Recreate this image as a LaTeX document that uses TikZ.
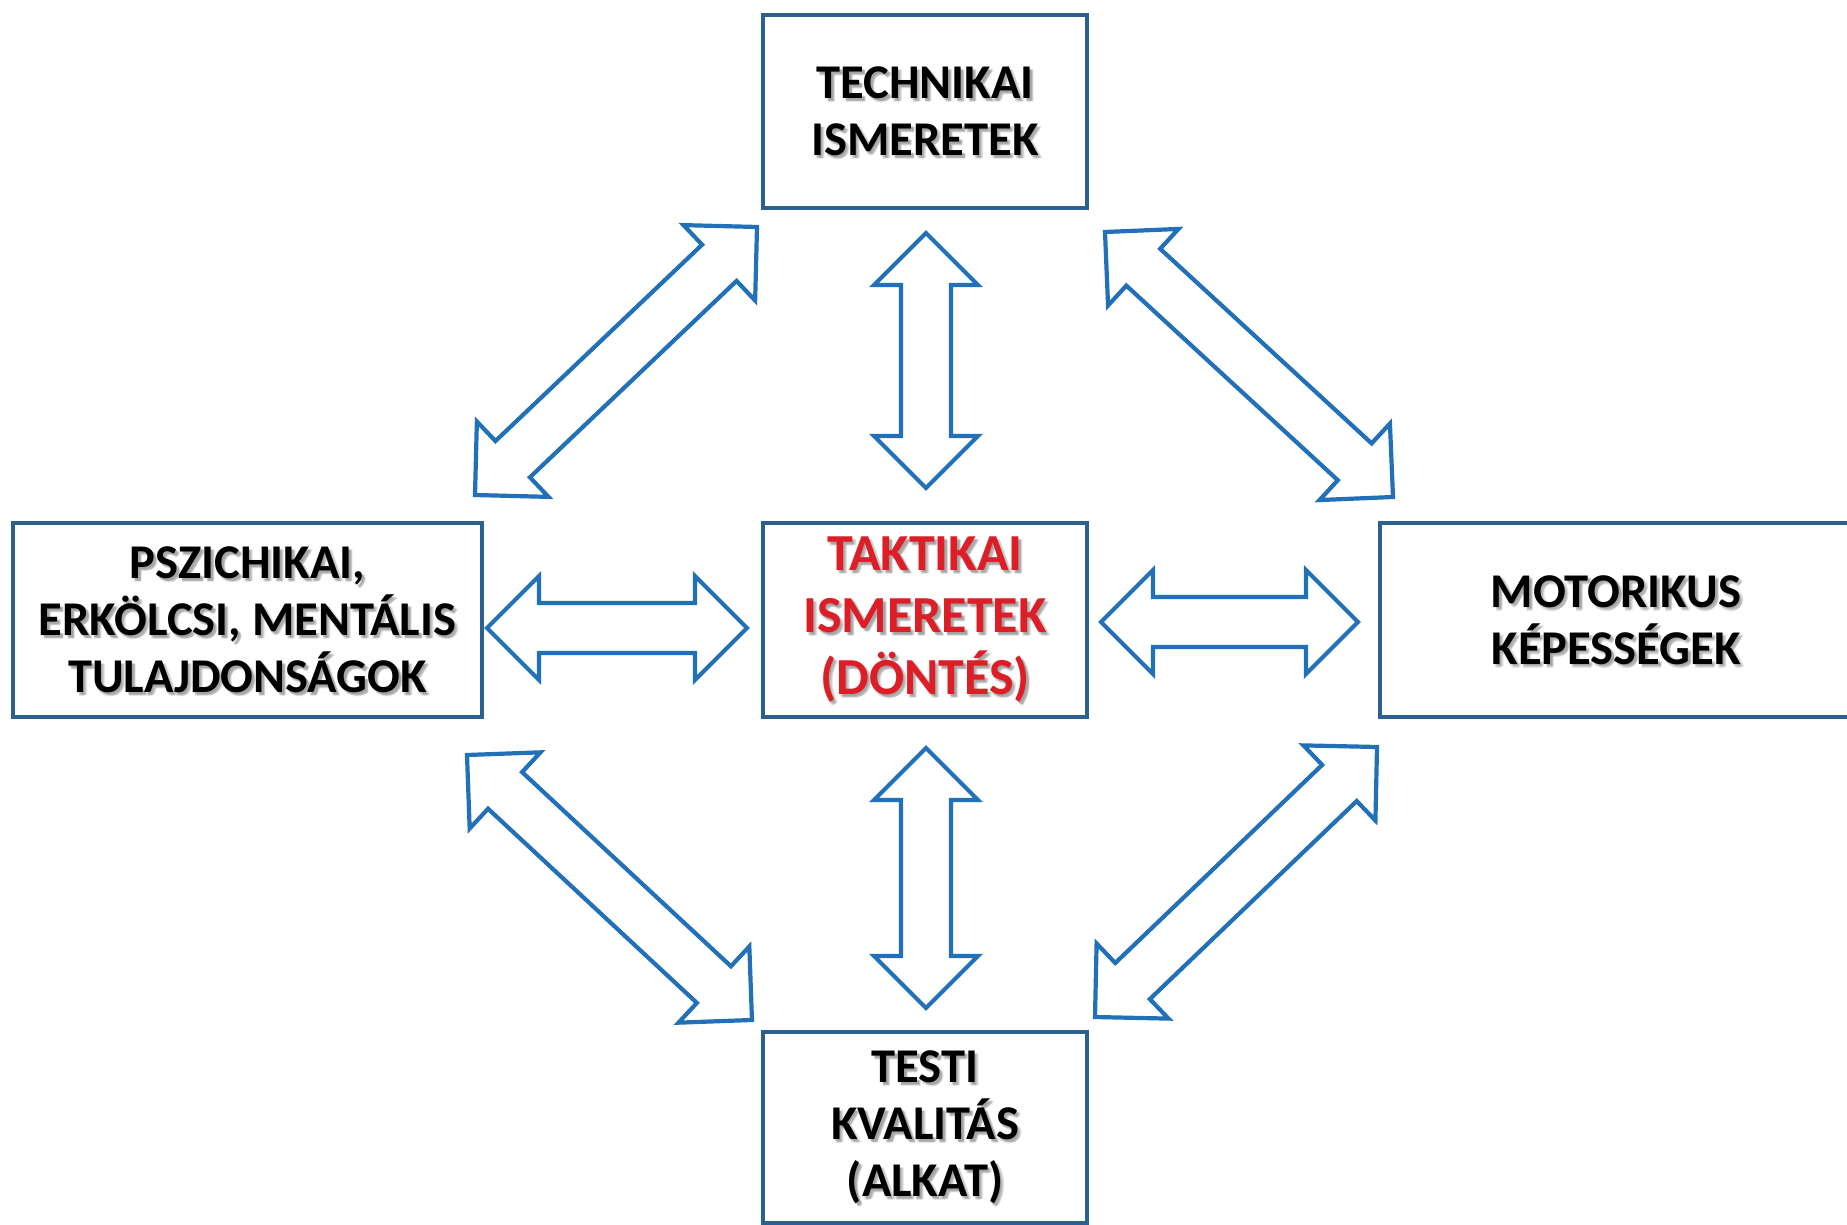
\documentclass[tikz,border=0pt]{standalone}
\usepackage{fontspec}
\setmainfont{Carlito}
\usetikzlibrary{calc}
\definecolor{boxblue}{RGB}{42,97,145}
\definecolor{arrblue}{RGB}{34,112,184}
\definecolor{txtred}{RGB}{222,30,38}
\tikzset{
  blockarrow/.style={draw=arrblue, line width=4.2pt, line join=miter, fill=white},
  box/.style={draw=boxblue, line width=4pt, inner sep=0pt, align=center,
    font=\fontsize{48.5}{57}\selectfont\bfseries, text=black},
  lbl/.style={inner sep=0pt, align=center, font=\fontsize{48.5}{57}\selectfont\bfseries, text=black},
  redfont/.style={font=\fontsize{52}{62}\selectfont\bfseries},
  redtext/.style={text=txtred, redfont},
}
% double block arrow from tip #1 to tip #2
\newcommand{\dblarrow}[2]{%
  \draw[blockarrow] let \p1=($(#2)-(#1)$), \n1={veclen(\x1,\y1)}, \n2={atan2(\y1,\x1)} in
    ([shift={(#1)},rotate=\n2]0,0)
    -- ([shift={(#1)},rotate=\n2]52,52)
    -- ([shift={(#1)},rotate=\n2]52,25)
    -- ([shift={(#1)},rotate=\n2]{\n1-52},25)
    -- ([shift={(#1)},rotate=\n2]{\n1-52},52)
    -- ([shift={(#1)},rotate=\n2]{\n1},0)
    -- ([shift={(#1)},rotate=\n2]{\n1-52},-52)
    -- ([shift={(#1)},rotate=\n2]{\n1-52},-25)
    -- ([shift={(#1)},rotate=\n2]52,-25)
    -- ([shift={(#1)},rotate=\n2]52,-52)
    -- cycle;}
% soft text shadow: name, centre, style, text
\newcommand{\softshadow}[4]{%
  \node[lbl,#3,opacity=.10] (#1a) at ([shift={(1.5,-1.5)}]#2) {#4};
  \node[lbl,#3,opacity=.10] (#1b) at ([shift={(3,-3)}]#2) {#4};
  \node[lbl,#3,opacity=.10] (#1c) at ([shift={(4,-2.5)}]#2) {#4};
  \node[lbl,#3,opacity=.10] (#1d) at ([shift={(2.5,-4)}]#2) {#4};}
\begin{document}
\begin{tikzpicture}[x=1pt,y=1pt]
\useasboundingbox[fill=white] (0,0) rectangle (1847,-1225);
% centres
\coordinate (cTech) at (925,-111.5);
\coordinate (cPsy)  at (247.5,-620);
\coordinate (cTak)  at (925,-620);
\coordinate (cMot)  at (1616,-620);
\coordinate (cTes)  at (925,-1127.5);
% text shadows
\softshadow{sTech}{cTech}{}{TECHNIKAI\\ISMERETEK}
\softshadow{sPsy}{cPsy}{}{PSZICHIKAI,\\ERKÖLCSI, MENTÁLIS\\TULAJDONSÁGOK}
\softshadow{sTak}{cTak}{redfont}{TAKTIKAI\\ISMERETEK\\(DÖNTÉS)}
\softshadow{sMot}{cMot}{}{MOTORIKUS\\KÉPESSÉGEK}
\softshadow{sTes}{cTes}{}{TESTI\\KVALITÁS\\(ALKAT)}
% boxes
\node[box, minimum width=324, minimum height=193] (tech) at (cTech) {TECHNIKAI\\ISMERETEK};
\node[box, minimum width=469, minimum height=194] (psy) at (cPsy) {PSZICHIKAI,\\ERKÖLCSI, MENTÁLIS\\TULAJDONSÁGOK};
\node[box, redtext, minimum width=324, minimum height=194] (tak) at (cTak) {TAKTIKAI\\ISMERETEK\\(DÖNTÉS)};
\node[box, minimum width=472, minimum height=194] (mot) at (cMot) {MOTORIKUS\\KÉPESSÉGEK};
\node[box, minimum width=324, minimum height=191] (tes) at (cTes) {TESTI\\KVALITÁS\\(ALKAT)};
% arrow tip points
\coordinate (ulA) at (475,-495);  \coordinate (ulB) at (757,-227);
\coordinate (urA) at (1105,-232); \coordinate (urB) at (1393,-497);
\coordinate (llA) at (467,-755);  \coordinate (llB) at (752,-1020);
\coordinate (lrA) at (1095,-1017);\coordinate (lrB) at (1377,-747);
\coordinate (tvA) at (926,-233);  \coordinate (tvB) at (926,-488);
\coordinate (bvA) at (926,-748);  \coordinate (bvB) at (926,-1008);
\coordinate (lhA) at (487,-628);  \coordinate (lhB) at (747,-628);
\coordinate (rhA) at (1101,-622); \coordinate (rhB) at (1358,-622);
\dblarrow{ulA}{ulB}
\dblarrow{urA}{urB}
\dblarrow{llA}{llB}
\dblarrow{lrA}{lrB}
\dblarrow{tvA}{tvB}
\dblarrow{bvA}{bvB}
\dblarrow{lhA}{lhB}
\dblarrow{rhA}{rhB}
\end{tikzpicture}
\end{document}
